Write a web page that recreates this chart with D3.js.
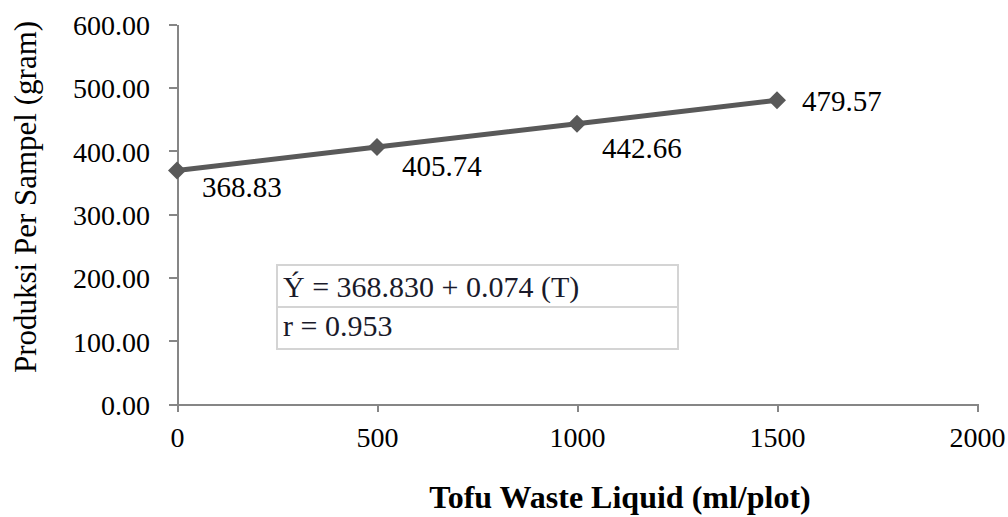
<!DOCTYPE html>
<meta charset="utf-8">
<style>

body {
    margin: 0;
    background: #fff;
}

.axis path, .axis line {
    fill: none;
    stroke: #868686;
    stroke-width: 2;
    shape-rendering: crispEdges;
}

.axis text {
    font: 28px "Liberation Serif", "Times New Roman", serif;
    fill: #000;
}

.label {
    font: 29px "Liberation Serif", "Times New Roman", serif;
    fill: #000;
}

.ytitle {
    font: 31px "Liberation Serif", "Times New Roman", serif;
}

.xtitle {
    font: bold 32px "Liberation Serif", "Times New Roman", serif;
}

.eq text {
    font: 30px "Liberation Serif", "Times New Roman", serif;
    fill: #1a1a2a;
}

</style>
<body>
<script src="https://d3js.org/d3.v7.min.js"></script>
<script>

// data
var dose = [0, 500, 1000, 1500];
var yield_ = [368.83, 405.74, 442.66, 479.57];
var xTicks = [0, 500, 1000, 1500, 2000];
var yTicks = [0, 100, 200, 300, 400, 500, 600];
var equation = ["\u00DD = 368.830 + 0.074 (T)", "r = 0.953"];

var width = 1008,
    height = 517;

var x = d3.scaleLinear()
    .domain([0, 2000])
    .range([177, 977]);

var y = d3.scaleLinear()
    .domain([0, 600])
    .range([404, 24]);

var svg = d3.select("body").append("svg")
    .attr("width", width)
    .attr("height", height);

var xAxis = d3.axisBottom(x)
    .tickValues(xTicks)
    .tickSize(8)
    .tickSizeOuter(0)
    .tickPadding(15)
    .tickFormat(d3.format("d"));

var yAxis = d3.axisLeft(y)
    .tickValues(yTicks)
    .tickSize(8)
    .tickSizeOuter(0)
    .tickPadding(19)
    .tickFormat(d3.format(".2f"));

svg.append("g")
    .attr("class", "axis")
    .attr("transform", "translate(0," + y(0) + ")")
    .call(xAxis);

svg.append("g")
    .attr("class", "axis")
    .attr("transform", "translate(" + x(0) + ",0)")
    .call(yAxis)
    .selectAll("text")
    .attr("dy", "0.38em");

// axis titles
svg.append("text")
    .attr("class", "ytitle")
    .attr("transform", "rotate(-90)")
    .attr("x", -197)
    .attr("y", 36)
    .attr("text-anchor", "middle")
    .text("Produksi Per Sampel (gram)");

svg.append("text")
    .attr("class", "xtitle")
    .attr("x", 620)
    .attr("y", 508)
    .attr("text-anchor", "middle")
    .text("Tofu Waste Liquid (ml/plot)");

var data = dose.map(function(d, i) { return {x: d, y: yield_[i]}; });

var line = d3.line()
    .x(function(d) { return x(d.x); })
    .y(function(d) { return y(d.y); });

svg.append("path")
    .datum(data)
    .attr("fill", "none")
    .attr("stroke", "#595959")
    .attr("stroke-width", 5)
    .attr("d", line);

svg.selectAll(".dot")
    .data(data)
    .enter().append("path")
    .attr("class", "dot")
    .attr("d", "M0,-9L9,0L0,9L-9,0Z")
    .attr("fill", "#595959")
    .attr("transform", function(d) { return "translate(" + x(d.x) + "," + y(d.y) + ")"; });

// label nudges, as placed in the original
var nudge = [[25, 27], [25, 29], [25, 34], [25, 11]];

svg.selectAll(".label")
    .data(data)
    .enter().append("text")
    .attr("class", "label")
    .attr("x", function(d, i) { return x(d.x) + nudge[i][0]; })
    .attr("y", function(d, i) { return y(d.y) + nudge[i][1]; })
    .text(function(d) { return d3.format(".2f")(d.y); });

// regression box
var eq = svg.append("g").attr("class", "eq");

eq.append("rect")
    .attr("x", 277)
    .attr("y", 265)
    .attr("width", 401)
    .attr("height", 84)
    .attr("fill", "#fff")
    .attr("stroke", "#d4d4d4")
    .attr("stroke-width", 2);

eq.append("line")
    .attr("x1", 277).attr("x2", 678)
    .attr("y1", 307).attr("y2", 307)
    .attr("stroke", "#d4d4d4")
    .attr("stroke-width", 2);

eq.selectAll("text")
    .data(equation)
    .enter().append("text")
    .attr("x", 283)
    .attr("y", function(d, i) { return 297 + i * 39; })
    .text(function(d) { return d; });

</script>
